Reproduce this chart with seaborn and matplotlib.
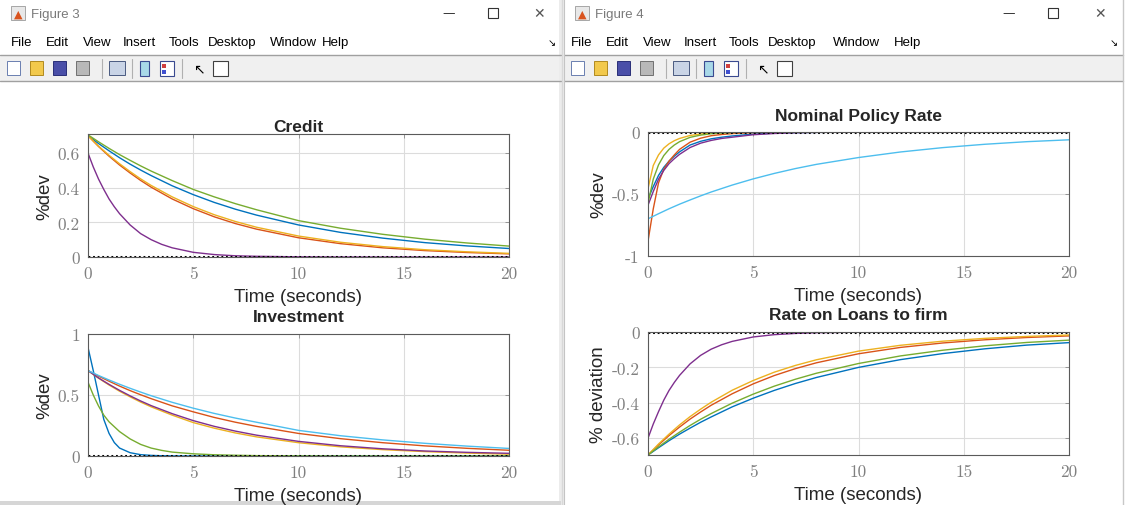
import numpy as np
import pandas as pd
import matplotlib
matplotlib.use('Agg')
import matplotlib.pyplot as plt
import seaborn as sns
from matplotlib.patches import Rectangle
from matplotlib.lines import Line2D
from matplotlib.ticker import FuncFormatter

# data (impulse responses, time in seconds)
t = [0, 0.5, 1, 1.5, 2, 2.5, 3, 4, 5, 6, 7, 8, 10, 12, 14, 16, 18, 20]
# finer grid for the fast-decaying responses
t_fast = [0, 0.25, 0.5, 0.75, 1, 1.25, 1.5, 2, 2.5, 3, 3.5, 4, 5, 6, 7, 8, 10, 12, 16, 20]
zero = [0.0] * len(t)

# Credit
credit_blue = [0.70, 0.655, 0.613, 0.573, 0.536, 0.502, 0.470, 0.411, 0.360, 0.315, 0.276, 0.242, 0.185, 0.142, 0.109, 0.083, 0.064, 0.049]
credit_red = [0.70, 0.638, 0.582, 0.531, 0.485, 0.442, 0.403, 0.335, 0.279, 0.232, 0.193, 0.161, 0.111, 0.077, 0.053, 0.037, 0.026, 0.018]
credit_yellow = [0.70, 0.640, 0.587, 0.538, 0.493, 0.451, 0.413, 0.347, 0.291, 0.244, 0.205, 0.172, 0.121, 0.085, 0.060, 0.042, 0.030, 0.021]
credit_purple = [0.60, 0.52, 0.45, 0.39, 0.335, 0.29, 0.25, 0.185, 0.135, 0.10, 0.073, 0.053, 0.027, 0.014, 0.007, 0.004, 0.001, 0.0, 0.0, 0.0]
credit_green = [0.705, 0.665, 0.627, 0.591, 0.558, 0.526, 0.496, 0.441, 0.390, 0.347, 0.308, 0.273, 0.210, 0.166, 0.131, 0.103, 0.081, 0.063]

# Investment
inv_blue = [0.89, 0.70, 0.50, 0.30, 0.185, 0.11, 0.065, 0.027, 0.011, 0.005, 0.002, 0.001, 0.0, 0.0, 0.0, 0.0, 0.0, 0.0, 0.0, 0.0]
inv_red = [0.70, 0.655, 0.613, 0.573, 0.536, 0.502, 0.470, 0.411, 0.362, 0.316, 0.277, 0.243, 0.185, 0.142, 0.109, 0.083, 0.063, 0.047]
inv_yellow = [0.70, 0.638, 0.582, 0.531, 0.485, 0.442, 0.403, 0.335, 0.274, 0.228, 0.189, 0.157, 0.109, 0.075, 0.052, 0.036, 0.024, 0.015]
inv_purple = [0.70, 0.640, 0.587, 0.538, 0.493, 0.451, 0.413, 0.347, 0.290, 0.243, 0.204, 0.171, 0.120, 0.084, 0.059, 0.041, 0.030, 0.022]
inv_green = [0.605, 0.50, 0.41, 0.335, 0.28, 0.24, 0.20, 0.14, 0.095, 0.065, 0.046, 0.032, 0.018, 0.01, 0.006, 0.003, 0.001, 0.0, 0.0, 0.0]
inv_cyan = [0.70, 0.66, 0.623, 0.588, 0.555, 0.524, 0.494, 0.440, 0.392, 0.349, 0.311, 0.277, 0.210, 0.166, 0.132, 0.104, 0.081, 0.062]

# Nominal Policy Rate
rate_blue = [-0.54, -0.44, -0.35, -0.285, -0.235, -0.195, -0.16, -0.105, -0.075, -0.055, -0.042, -0.032, -0.017, -0.009, -0.005, -0.003, -0.001, 0.0, 0.0, 0.0]
rate_red = [-0.88, -0.62, -0.41, -0.30, -0.235, -0.185, -0.14, -0.082, -0.05, -0.03, -0.02, -0.013, -0.005, -0.002, -0.001, 0.0, 0.0, 0.0, 0.0, 0.0]
rate_yellow = [-0.457, -0.27, -0.185, -0.13, -0.095, -0.07, -0.052, -0.028, -0.016, -0.009, -0.005, -0.003, -0.001, 0.0, 0.0, 0.0, 0.0, 0.0, 0.0, 0.0]
rate_purple = [-0.59, -0.48, -0.38, -0.31, -0.255, -0.215, -0.18, -0.125, -0.09, -0.068, -0.052, -0.042, -0.022, -0.012, -0.006, -0.003, -0.001, 0.0, 0.0, 0.0]
rate_green = [-0.575, -0.38, -0.265, -0.19, -0.14, -0.105, -0.078, -0.043, -0.025, -0.014, -0.008, -0.005, -0.002, -0.001, 0.0, 0.0, 0.0, 0.0, 0.0, 0.0]
rate_cyan = [-0.70, -0.659, -0.619, -0.582, -0.548, -0.515, -0.484, -0.428, -0.378, -0.334, -0.295, -0.261, -0.206, -0.161, -0.126, -0.099, -0.078, -0.063]

# Rate on Loans to firm
loan_blue = [-0.695, -0.654, -0.614, -0.577, -0.543, -0.510, -0.480, -0.423, -0.374, -0.330, -0.291, -0.257, -0.200, -0.156, -0.122, -0.095, -0.074, -0.060]
loan_red = [-0.695, -0.638, -0.585, -0.537, -0.492, -0.452, -0.414, -0.349, -0.293, -0.246, -0.207, -0.174, -0.123, -0.087, -0.062, -0.044, -0.031, -0.022]
loan_yellow = [-0.695, -0.633, -0.577, -0.525, -0.478, -0.436, -0.397, -0.329, -0.274, -0.227, -0.189, -0.157, -0.108, -0.075, -0.052, -0.036, -0.025, -0.017]
loan_purple = [-0.60, -0.52, -0.45, -0.385, -0.33, -0.285, -0.245, -0.18, -0.132, -0.097, -0.072, -0.053, -0.028, -0.015, -0.008, -0.004, -0.001, 0.0, 0.0, 0.0]
loan_green = [-0.695, -0.649, -0.606, -0.566, -0.528, -0.493, -0.461, -0.402, -0.351, -0.306, -0.267, -0.233, -0.178, -0.135, -0.103, -0.078, -0.059, -0.046]

# matlab default colour order
c_blue = '#0072BD'
c_red = '#D95319'
c_yellow = '#EDB120'
c_purple = '#7E2F8E'
c_green = '#77AC30'
c_cyan = '#4DBEEE'

sns.set_style('white')
# tick labels in computer modern like matlab's latex ticks, everything else sans
plt.rcParams['font.family'] = ['cmr10', 'DejaVu Serif']
plt.rcParams['axes.unicode_minus'] = False
SANS = ['Liberation Sans', 'DejaVu Sans']

W, H = 1126, 506
fig = plt.figure(figsize=(W / 100, H / 100), dpi=100)
fig.patch.set_facecolor('white')


def fx(x):
    return x / W


def fy(y):
    return 1 - y / H


def rect(x0, y0, x1, y1, fc, ec='none', lw=0.8, z=0):
    fig.add_artist(Rectangle((fx(x0), fy(y1)), fx(x1) - fx(x0), fy(y0) - fy(y1),
                             transform=fig.transFigure, facecolor=fc, edgecolor=ec, lw=lw, zorder=z))


def hline(x0, x1, y, color, lw=1.0):
    fig.add_artist(Line2D([fx(x0), fx(x1)], [fy(y), fy(y)], transform=fig.transFigure, color=color, lw=lw))


def vline(x, y0, y1, color, lw=1.0):
    fig.add_artist(Line2D([fx(x), fx(x)], [fy(y0), fy(y1)], transform=fig.transFigure, color=color, lw=lw))


# window chrome (two matlab figure windows)
def window(x0, x1, name, menu_x, ctrl_x):
    rect(x0, 56, x1, 82, '#f0f0f0')
    hline(x0, x1, 56, '#a0a0a0', 1.0)
    hline(x0, x1, 82, '#a0a0a0', 1.0)
    # matlab logo + title
    rect(x0 + 11, 7, x0 + 25, 21, '#e8e8e8', ec='#9a9a9a', lw=0.6)
    fig.text(fx(x0 + 18), fy(15), '\u25b2', color='#d9531e', fontsize=8, ha='center', va='center',
             family='DejaVu Sans')
    fig.text(fx(x0 + 31), fy(15), name, color='#7a7a7a', fontsize=9.5, va='center', family=SANS)
    menus = ['File', 'Edit', 'View', 'Insert', 'Tools', 'Desktop', 'Window', 'Help']
    for m, mx in zip(menus, menu_x):
        fig.text(fx(mx), fy(43), m, color='black', fontsize=9.5, va='center', family=SANS)
    fig.text(fx(x1 - 9), fy(43), '\u2198', color='black', fontsize=7, va='center', ha='center',
             family='DejaVu Sans')
    fig.text(fx(ctrl_x[0]), fy(14), '\u2014', color='#333333', fontsize=9, ha='center', va='center',
             family='DejaVu Sans')
    rect(ctrl_x[1] - 5, 9, ctrl_x[1] + 5, 19, 'none', ec='#333333', lw=0.8)
    fig.text(fx(ctrl_x[2]), fy(14), '\u2715', color='#555555', fontsize=10, ha='center', va='center',
             family='DejaVu Sans')
    # toolbar icons (rough)
    bx = x0 + 7
    icons = [('#ffffff', '#6a7fb0'), ('#f2c94c', '#b08a20'), ('#4a4fa8', '#2a2f78'), ('#b8b8b8', '#707070')]
    for i, (fc, ec) in enumerate(icons):
        rect(bx + i * 23, 62, bx + i * 23 + 13, 76, fc, ec=ec, lw=0.7)
    vline(bx + 95, 60, 79, '#b0b0b0', 0.8)
    rect(bx + 102, 62, bx + 118, 76, '#c9d4e6', ec='#4a5a80', lw=0.7)
    vline(bx + 125, 60, 79, '#b0b0b0', 0.8)
    rect(bx + 133, 62, bx + 142, 77, '#a8d8e8', ec='#3a4a90', lw=0.8)
    rect(bx + 153, 62, bx + 167, 77, '#ffffff', ec='#3a4a90', lw=0.8)
    rect(bx + 155, 65, bx + 159, 69, '#d04040')
    rect(bx + 155, 71, bx + 159, 75, '#4050d0')
    vline(bx + 175, 60, 79, '#b0b0b0', 0.8)
    fig.text(fx(bx + 192), fy(69), '\u2196', color='black', fontsize=10, ha='center', va='center',
             family='DejaVu Sans')
    rect(bx + 206, 62, bx + 221, 77, '#ffffff', ec='#404040', lw=0.8)


window(0, 561, 'Figure 3', [11, 46, 83, 123, 169, 208, 270, 322], [449, 493, 539])
window(564, 1123, 'Figure 4', [571, 606, 643, 684, 729, 768, 833, 894], [1009, 1053, 1100])
# gap / shadow between the windows and the bottom edge
rect(559, 0, 564, 506, '#ececec')
vline(562, 0, 506, '#d8d8d8', 1.0)
vline(564, 0, 506, '#c4c4c4', 0.8)
vline(1123, 0, 506, '#c8c8c8', 1.0)
rect(0, 502, 561, 506, '#d6d6d6')

tick_fmt = FuncFormatter(lambda v, p: '%g' % v)


def panel(box, title, ylabel, series, ylim, yticks, title_pad):
    x0, y0, x1, y1 = box
    ax = fig.add_axes([fx(x0), fy(y1), fx(x1) - fx(x0), fy(y0) - fy(y1)])
    for tv, vals, col in series:
        sns.lineplot(x=tv, y=vals, color=col, lw=1.0, ax=ax)
    sns.lineplot(x=t, y=zero, color='black', lw=2.2, ax=ax, linestyle=(0, (0.6, 0.9)))
    ax.set_xlim(0, 20)
    ax.set_ylim(*ylim)
    ax.set_xticks([0, 5, 10, 15, 20])
    ax.set_yticks(yticks)
    ax.xaxis.set_major_formatter(tick_fmt)
    ax.yaxis.set_major_formatter(tick_fmt)
    ax.grid(True, color='#dcdcdc', lw=0.8)
    ax.tick_params(direction='in', length=3, width=0.6, colors='#8a8a8a', labelsize=12.5,
                   top=True, right=True, pad=6)
    ax.tick_params(labelcolor='#808080')
    for s in ax.spines.values():
        s.set_color('#5a5a5a')
        s.set_linewidth(0.8)
    ax.set_title(title, fontsize=12.5, fontweight='bold', pad=title_pad, family=SANS)
    ax.set_xlabel('Time (seconds)', fontsize=13.5, labelpad=5, family=SANS)
    ax.set_ylabel(ylabel, fontsize=13.5, labelpad=3, family=SANS)
    return ax


panel((88, 135, 509, 258), 'Credit', '%dev',
      [(t, credit_blue, c_blue), (t, credit_red, c_red), (t, credit_yellow, c_yellow),
       (t_fast, credit_purple, c_purple), (t, credit_green, c_green)],
      (0, 0.71), [0, 0.2, 0.4, 0.6], 2)
panel((88, 335, 509, 457), 'Investment', '%dev',
      [(t_fast, inv_blue, c_blue), (t, inv_red, c_red), (t, inv_yellow, c_yellow),
       (t, inv_purple, c_purple), (t_fast, inv_green, c_green), (t, inv_cyan, c_cyan)],
      (0, 1), [0, 0.5, 1], 9)
panel((648, 133, 1069, 257), 'Nominal Policy Rate', '%dev',
      [(t_fast, rate_blue, c_blue), (t_fast, rate_red, c_red), (t_fast, rate_yellow, c_yellow),
       (t_fast, rate_purple, c_purple), (t_fast, rate_green, c_green), (t, rate_cyan, c_cyan)],
      (-1, 0), [-1, -0.5, 0], 9)
panel((648, 333, 1069, 456), 'Rate on Loans to firm', '% deviation',
      [(t, loan_blue, c_blue), (t, loan_red, c_red), (t, loan_yellow, c_yellow),
       (t_fast, loan_purple, c_purple), (t, loan_green, c_green)],
      (-0.695, 0), [-0.6, -0.4, -0.2, 0], 9)

fig.savefig('out.png', dpi=100)
